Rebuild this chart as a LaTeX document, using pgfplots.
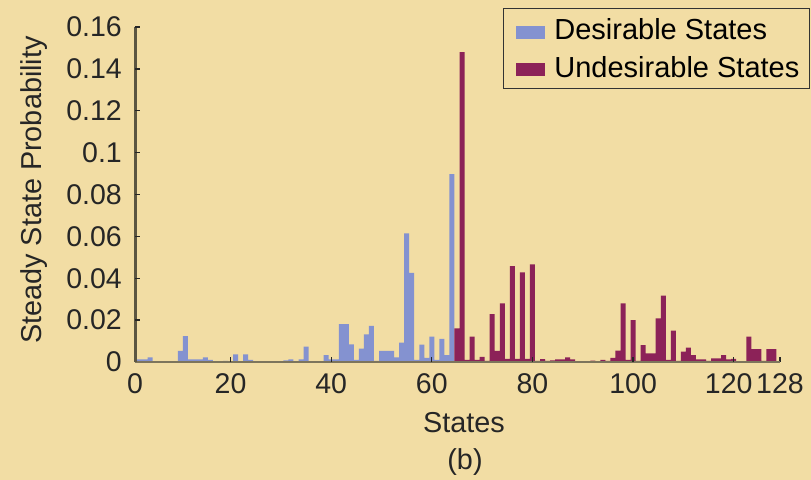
\documentclass[border=0pt]{standalone}
\usepackage{pgfplots}
\pgfplotsset{compat=1.18}
\usepackage{pgfplotstable}
\usepackage{fontspec}
\setmainfont{Liberation Sans}
\definecolor{bgc}{RGB}{242,221,164}
\definecolor{desc}{RGB}{132,146,208}
\definecolor{undc}{RGB}{140,34,88}
\definecolor{axc}{RGB}{92,86,66}
\definecolor{basec}{RGB}{125,117,92}
\pgfplotstableread{
s v
1 0.0013
2 0.0013
3 0.0013
4 0.0022
5 0
6 0
7 0
8 0
9 0
10 0.0053
11 0.0124
12 0.0013
13 0.0013
14 0.0013
15 0.0022
16 0.0010
17 0
18 0
19 0.0005
20 0
21 0.0037
22 0
23 0.0037
24 0.0010
25 0
26 0
27 0
28 0
29 0
30 0
31 0.0008
32 0.0013
33 0
34 0.0013
35 0.0073
36 0
37 0
38 0
39 0.0033
40 0.0013
41 0.0013
42 0.0181
43 0.0181
44 0.0084
45 0.0010
46 0.0064
47 0.0132
48 0.0172
49 0.0005
50 0.0053
51 0.0053
52 0.0053
53 0.0022
54 0.0092
55 0.0614
56 0.0426
57 0.0010
58 0.0083
59 0.0020
60 0.0121
61 0.0010
62 0.0111
63 0.0033
64 0.0897
}\desirable
\pgfplotstableread{
s v
65 0.0161
66 0.1480
67 0.0010
68 0.0121
69 0.0010
70 0.0025
71 0.0005
72 0.0229
73 0.0053
74 0.0280
75 0.0015
76 0.0458
77 0.0015
78 0.0428
79 0.0015
80 0.0466
81 0.0005
82 0.0014
83 0.0005
84 0.0008
85 0.0013
86 0.0013
87 0.0022
88 0.0012
89 0
90 0
91 0
92 0.0006
93 0
94 0.0010
95 0.0005
96 0.0020
97 0.0054
98 0.0280
99 0.0010
100 0.0200
101 0.0005
102 0.0081
103 0.0041
104 0.0041
105 0.0208
106 0.0317
107 0.0010
108 0.0150
109 0.0005
110 0.0049
111 0.0069
112 0.0033
113 0.0013
114 0.0013
115 0.0005
116 0.0017
117 0.0017
118 0.0033
119 0.0013
120 0.0015
121 0.0003
122 0.0003
123 0.0121
124 0.0062
125 0.0062
126 0.0005
127 0.0062
128 0.0062
}\undesirable
\begin{document}
\begin{tikzpicture}
\fill[bgc] (0,0) rectangle (811bp,480bp);
\useasboundingbox (0,0) rectangle (811bp,480bp);
\begin{axis}[
  scale only axis,
  width=645bp, height=335bp,
  at={(135bp,118bp)}, anchor=south west,
  xmin=1, xmax=129.2, ymin=0, ymax=0.16,
  axis x line*=bottom,
  axis y line*=left,
  x axis line style={-, draw=basec, line width=2.4bp},
  y axis line style={-, draw=axc, line width=3bp},
  tick align=inside,
  major tick length=4.5bp,
  tick style={draw=black!85, line width=1.3bp},
  xtick={1,20,40,60,80,100,120,129.2},
  xticklabels={0,20,40,60,80,100,{\hspace*{-10bp}120},128},
  ytick={0,0.02,0.04,0.06,0.08,0.1,0.12,0.14,0.16},
  yticklabels={0,0.02,0.04,0.06,0.08,0.1,0.12,0.14,0.16},
  /pgf/number format/assume math mode=true,
  ticklabel style={font=\fontsize{28.5bp}{32bp}\selectfont, text=black!85},
  xticklabel style={inner sep=0pt, anchor=north, yshift=-11bp},
  yticklabel style={inner sep=0pt, anchor=east, xshift=-13bp},
  xlabel={States},
  ylabel={Steady State Probability},
  label style={font=\fontsize{28.8bp}{32bp}\selectfont, text=black!85, inner sep=0pt},
  xlabel style={at={(axis description cs:0.510,-0.2119)}, anchor=base},
  ylabel style={at={(axis description cs:-0.1447,0.5134)}, anchor=base},
  legend style={at={(rel axis cs:1.0465,1.0567)}, anchor=north east,
    draw=black!80, line width=1.2bp, fill=none,
    font=\fontsize{29bp}{32bp}\selectfont,
    inner xsep=10bp, inner ysep=10bp, row sep=15bp, column sep=9bp,
    nodes={inner sep=0pt}},
  legend cell align=left,
  mylegend/.style={legend image code/.code={\path (0bp,0bp); \fill[##1] (3bp,-9bp) rectangle (32bp,4bp);}},
]
\addplot[ybar, bar width=1, bar shift=0pt, fill=desc, draw=none, mylegend] table[x=s,y=v] {\desirable};
\addlegendentry{Desirable States}
\addplot[ybar, bar width=1, bar shift=0pt, fill=undc, draw=none, mylegend] table[x=s,y=v] {\undesirable};
\addlegendentry{Undesirable States}
\draw[basec, line width=2.4bp] (rel axis cs:0,0) -- (rel axis cs:1,0);
\draw[axc, line width=3bp] (rel axis cs:0,0) -- (rel axis cs:0,1);
\pgfplotsinvokeforeach{0.02,0.04,0.06,0.08,0.1,0.12,0.14,0.16}{
  \draw[black!85, line width=1.3bp] (axis cs:1,#1) -- ++(4.5bp,0bp);
}
\pgfplotsinvokeforeach{20,40,60,80,100,120}{
  \draw[black!85, line width=1.3bp] (axis cs:#1,0) -- ++(0bp,4.5bp);
}
\end{axis}
\node[font=\fontsize{28.8bp}{32bp}\selectfont, text=black!85, inner sep=0pt] at (465bp,17.5bp) {(b)};
\end{tikzpicture}
\end{document}
